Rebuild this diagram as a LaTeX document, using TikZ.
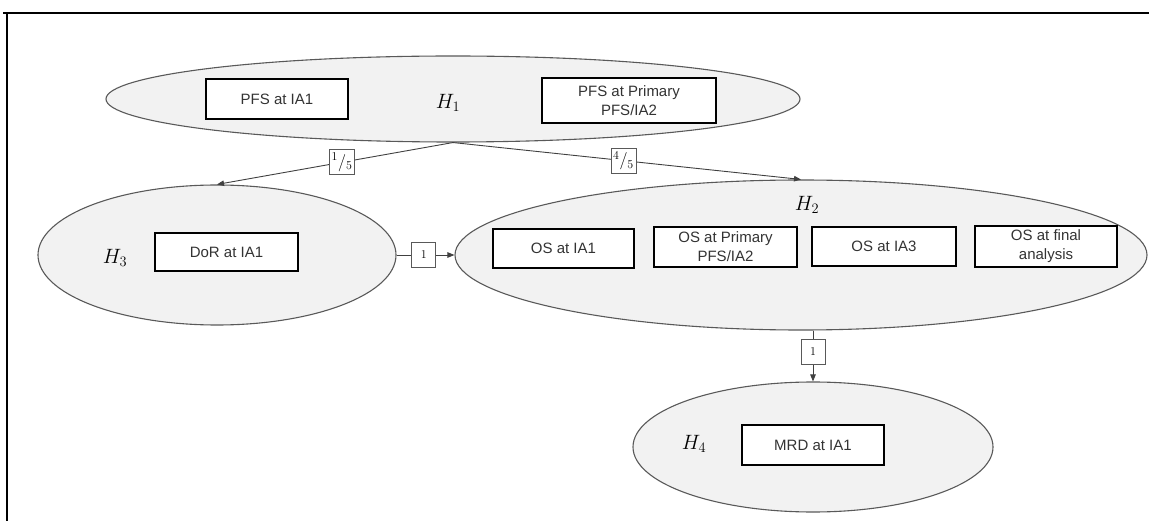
\documentclass[tikz,border=0pt]{standalone}
\usepackage{fontspec}
\setmainfont{Liberation Sans}
\usetikzlibrary{shapes.geometric,arrows.meta}
\definecolor{ellfill}{HTML}{F2F2F2}
\definecolor{ellline}{HTML}{595959}
\definecolor{txt}{HTML}{333333}
\definecolor{conn}{HTML}{404040}
\tikzset{
  hyp/.style={ellipse, draw=ellline, line width=1.1pt, fill=ellfill, inner sep=0pt},
  testbox/.style={draw=black, line width=1.6pt, fill=white, inner sep=0pt, align=center,
    text=txt, font=\fontsize{15}{19}\selectfont},
  hlabel/.style={inner sep=0pt, font=\fontsize{19.5}{19.5}\selectfont},
  wbox/.style={draw=ellline, line width=0.9pt, fill=white, inner sep=0pt, minimum width=25pt, minimum height=25pt},
  wfrac/.style={wbox, font=\fontsize{17}{17}\selectfont},
  wone/.style={wbox, minimum width=24pt, font=\fontsize{12}{12}\selectfont},
  connector/.style={draw=conn, line width=0.9pt, -{Triangle[length=7pt,width=5.5pt]}}
}
\begin{document}
\begin{tikzpicture}[x=1pt,y=-1pt]
\useasboundingbox (0,0) rectangle (1149,521);
% frame
\draw[line width=2pt] (3,13) -- (1149,13);
\draw[line width=2pt] (7,13) -- (7,521);
% ellipses
\node[hyp, minimum width=694pt, minimum height=86pt] (e1) at (453,99) {};
\node[hyp, minimum width=692pt, minimum height=150pt] (e2) at (801,255) {};
\node[hyp, minimum width=358pt, minimum height=140pt] (e3) at (217,255) {};
\node[hyp, minimum width=360pt, minimum height=130pt] (e4) at (813,447) {};
% labels
\node[hlabel] (h1) at (448,103) {$H_1$};
\node[hlabel] (h2) at (807,205) {$H_2$};
\node[hlabel] (h3) at (115,258) {$H_3$};
\node[hlabel] (h4) at (694,444) {$H_4$};
% boxes
\node[testbox, minimum width=142pt, minimum height=40pt] (pfs1) at (277,99) {PFS at IA1};
\node[testbox, minimum width=174pt, minimum height=45pt] (pfs2) at (629,100.5) {PFS at Primary\\PFS/IA2};
\node[testbox, minimum width=143pt, minimum height=38pt] (dor) at (226.5,252) {DoR at IA1};
\node[testbox, minimum width=141pt, minimum height=39pt] (os1) at (563.5,248.5) {OS at IA1};
\node[testbox, minimum width=143pt, minimum height=40pt] (os2) at (725.5,247) {OS at Primary\\PFS/IA2};
\node[testbox, minimum width=144pt, minimum height=39pt] (os3) at (884,246.5) {OS at IA3};
\node[testbox, minimum width=142pt, minimum height=41pt] (os4) at (1046,246.5) {OS at final\\analysis};
\node[testbox, minimum width=142pt, minimum height=40pt] (mrd) at (813,445) {MRD at IA1};
% connectors
\draw[connector] (e1.south) -- node[wfrac, pos=0.47] (w15) {$^{1}/_{5}$} (e3.north);
\draw[connector] (e1.south) -- node[wfrac, pos=0.49] (w45) {$^{4}/_{5}$} (e2.north);
\draw[connector] (e3.east) -- node[wone, pos=0.47] (w1a) {$1$} (e2.west);
\coordinate (c2b) at (e2.south -| e4.north);
\draw[connector] (c2b) -- node[wone, pos=0.42] (w1b) {$1$} (e4.north);
\end{tikzpicture}
\end{document}
